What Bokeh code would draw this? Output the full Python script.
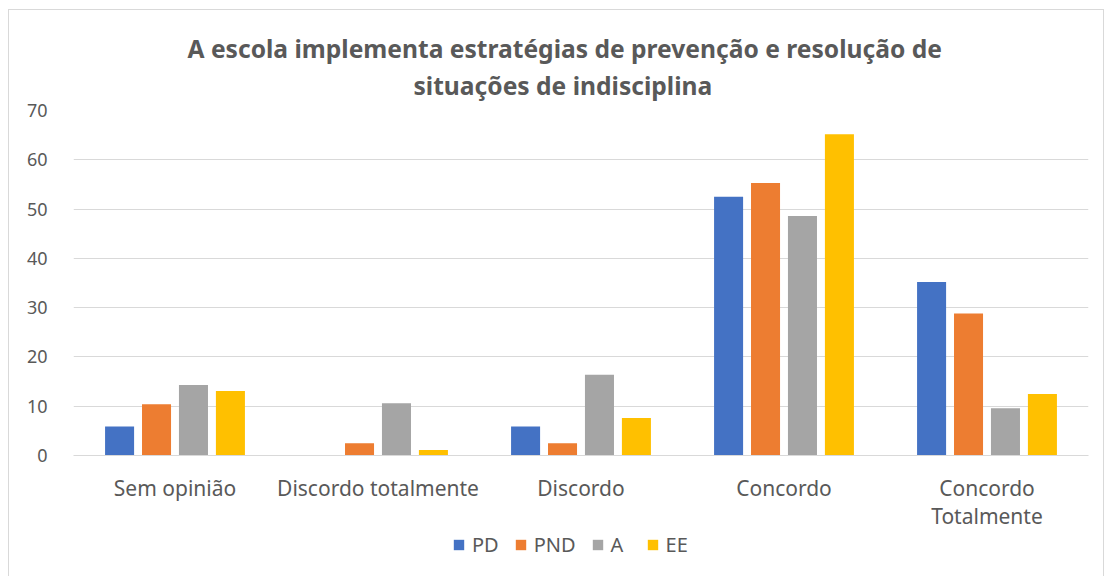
from bokeh.plotting import figure
from bokeh.layouts import column
from bokeh.models import ColumnDataSource, FactorRange, Range1d, Title, Legend, LegendItem, SingleIntervalTicker
from bokeh.transform import dodge
from bokeh.embed import file_html
from bokeh.resources import INLINE

categories = ["Sem opinião", "Discordo totalmente", "Discordo", "Concordo", "Concordo\nTotalmente"]
series = ["PD", "PND", "A", "EE"]
pd_vals = [5.9, 0, 5.9, 52.5, 35.2]
pnd_vals = [10.4, 2.5, 2.5, 55.3, 28.8]
a_vals = [14.3, 10.6, 16.4, 48.6, 9.6]
ee_vals = [13.1, 1.1, 7.6, 65.2, 12.5]
colors = ["#4472C4", "#ED7D31", "#A5A5A5", "#FFC000"]
title_lines = ["A escola implementa estratégias de prevenção e resolução de",
               "situações de indisciplina"]

src = ColumnDataSource(dict(cat=categories, PD=pd_vals, PND=pnd_vals, A=a_vals, EE=ee_vals))

TXT = "#595959"
FONT = "Noto Sans"

p = figure(frame_width=1015, frame_height=345, output_backend="svg", toolbar_location=None,
           x_range=FactorRange(factors=categories, range_padding=0),
           y_range=Range1d(0, 70),
           min_border_left=64, min_border_right=15, min_border_top=100, min_border_bottom=75)
p.outline_line_color = None
p.xgrid.grid_line_color = None
p.ygrid.grid_line_color = "#D9D9D9"
p.ygrid.grid_line_width = 1

p.yaxis.ticker = SingleIntervalTicker(interval=10)
p.yaxis.axis_line_color = None
p.yaxis.major_tick_line_color = None
p.yaxis.minor_tick_line_color = None
p.yaxis.major_tick_out = 0
p.yaxis.major_label_standoff = 22
p.yaxis.major_label_text_font = FONT
p.yaxis.major_label_text_font_size = "18px"
p.yaxis.major_label_text_color = TXT

p.xaxis.axis_line_color = "#D9D9D9"
p.xaxis.major_tick_line_color = None
p.xaxis.minor_tick_line_color = None
p.xaxis.major_tick_out = 0
p.xaxis.major_label_standoff = 18
p.xaxis.major_label_text_font = FONT
p.xaxis.major_label_text_font_size = "21px"
p.xaxis.major_label_text_line_height = 1.0
p.xaxis.major_label_text_color = TXT

offsets = [-0.273, -0.091, 0.091, 0.273]
for s, c, off in zip(series, colors, offsets):
    p.vbar(x=dodge("cat", off, range=p.x_range), top=s, width=0.143, source=src,
           fill_color=c, line_color=None)

t2 = Title(text=title_lines[1], align="left", offset=340, text_font=FONT,
           text_font_style="bold", text_font_size="24.6px", text_color=TXT, standoff=18)
t1 = Title(text=title_lines[0], align="left", offset=114, text_font=FONT,
           text_font_style="bold", text_font_size="24.6px", text_color=TXT, standoff=-14)
p.add_layout(t2, "above")
p.add_layout(t1, "above")

# legend strip below the chart
lf = figure(width=1094, height=46, output_backend="svg", toolbar_location=None,
            x_range=Range1d(0, 1), y_range=Range1d(0, 1), min_border=0,
            x_axis_location=None, y_axis_location=None)
lf.grid.grid_line_color = None
lf.outline_line_color = None
items = []
for s, c in zip(series, colors):
    r = lf.vbar(x=[0.5], top=[0], bottom=[0], width=0.01, fill_color=c, line_color=None)
    items.append(LegendItem(label=s, renderers=[r]))
legend = Legend(items=items, orientation="horizontal", location=(379, 20),
                glyph_width=13, glyph_height=13, label_text_font=FONT,
                label_text_font_size="20px", label_text_color=TXT,
                spacing=15, label_standoff=7, padding=0, margin=0,
                border_line_color=None, background_fill_alpha=0)
lf.add_layout(legend)

layout = column(p, lf, spacing=0)
layout.styles = {"margin-left": "8px", "margin-top": "9px", "border": "1px solid #D9D9D9"}

open("out.html", "w").write(file_html(layout, INLINE))
